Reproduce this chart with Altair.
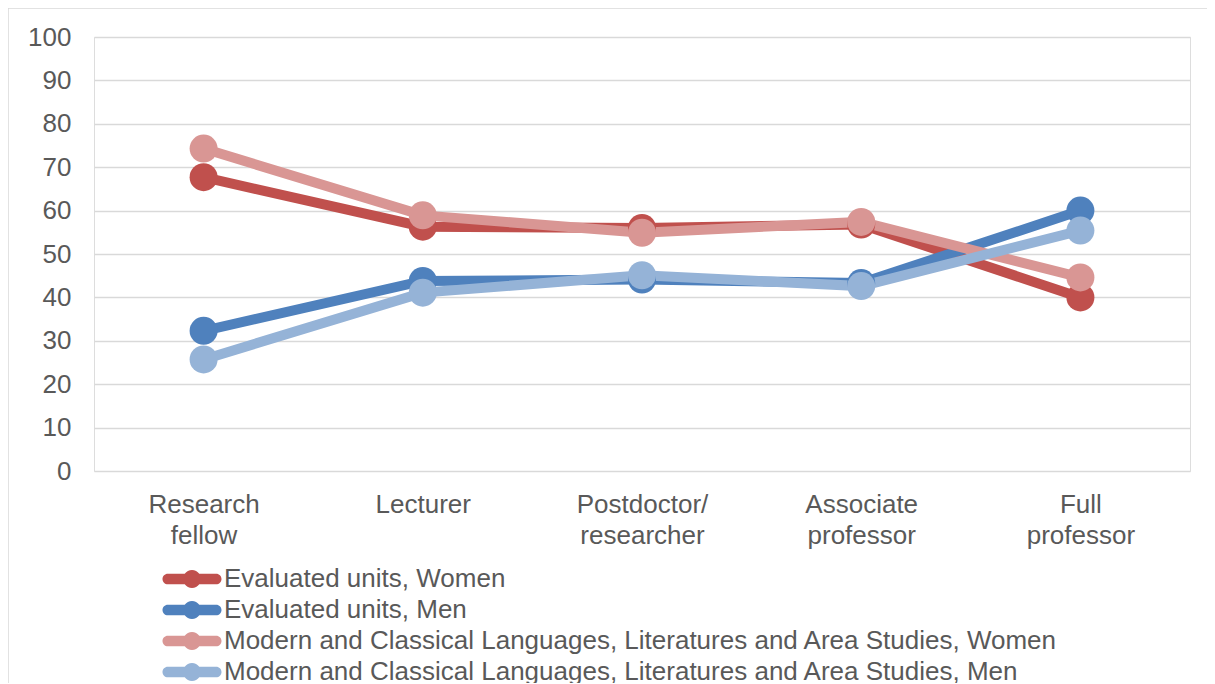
import altair as alt
import pandas as pd

categories = ["Research fellow", "Lecturer", "Postdoctor/ researcher", "Associate professor", "Full professor"]
series_names = [
    "Evaluated units, Women",
    "Evaluated units, Men",
    "Modern and Classical Languages, Literatures and Area Studies, Women",
    "Modern and Classical Languages, Literatures and Area Studies, Men",
]
eval_women = [67.7, 56.3, 56.0, 56.8, 40.0]
eval_men = [32.3, 43.8, 44.1, 43.3, 60.0]
lang_women = [74.3, 58.9, 54.9, 57.4, 44.6]
lang_men = [25.7, 41.1, 45.1, 42.6, 55.4]
colors = ["#C0504D", "#4F81BD", "#D99694", "#95B3D7"]

rows = []
for name, vals in zip(series_names, [eval_women, eval_men, lang_women, lang_men]):
    for c, v in zip(categories, vals):
        rows.append({"category": c, "series": name, "value": v})
df = pd.DataFrame(rows)

FONT = "Liberation Sans"
TXT = "#595959"

x_enc = alt.X(
    "category:N",
    sort=categories,
    scale=alt.Scale(type="point", padding=0.5),
    axis=alt.Axis(
        title=None, labelAngle=0, domain=False, ticks=False, grid=False,
        labelExpr="split(datum.label, ' ')", labelLineHeight=31,
        labelPadding=20, labelFontSize=26, labelFont=FONT, labelColor=TXT,
        labelBaseline="top",
    ),
)
y_enc = alt.Y(
    "value:Q",
    scale=alt.Scale(domain=[0, 100], nice=False),
    axis=alt.Axis(
        title=None, values=list(range(0, 101, 10)), domain=False, ticks=False,
        gridColor="#D9D9D9", gridWidth=1.5, labelPadding=23,
        labelFontSize=26, labelFont=FONT, labelColor=TXT,
    ),
)
color_scale = alt.Scale(domain=series_names, range=colors)

# legend glyph: thick rounded line with a dot in the middle (unit = sqrt(symbolSize)/2 px)
sym_path = ("M-2.42,-0.53 L-0.727,-0.53 A0.9,0.9 0 0,1 0.727,-0.53 L2.42,-0.53 "
            "A0.53,0.53 0 0,1 2.42,0.53 L0.727,0.53 A0.9,0.9 0 0,1 -0.727,0.53 "
            "L-2.42,0.53 A0.53,0.53 0 0,1 -2.42,-0.53 Z")

frame = alt.Chart(pd.DataFrame({"f": [0]})).mark_rect(
    fill=None, stroke="#D9D9D9", strokeWidth=1.5
).encode(
    x=alt.value(-86), x2=alt.value(1200), y=alt.value(-29), y2=alt.value(800)
)

lines = alt.Chart(df).mark_line(strokeWidth=10).encode(
    x=x_enc, y=y_enc,
    color=alt.Color("series:N", scale=color_scale, legend=None),
    detail="series:N",
)

points = alt.Chart(df).mark_circle(size=784, opacity=1).encode(
    x=x_enc, y=y_enc,
    color=alt.Color(
        "series:N", scale=color_scale,
        legend=alt.Legend(
            title=None, orient="none", legendX=85, legendY=529, direction="vertical",
            symbolType=sym_path, symbolSize=400, symbolStrokeWidth=0, symbolOpacity=1,
            labelFontSize=26, labelFont=FONT, labelColor=TXT, labelOffset=19,
            labelLimit=1200, rowPadding=5, padding=0,
        ),
    ),
)

chart = alt.layer(frame, lines, points).resolve_legend(color="independent").properties(
    width=1096, height=434,
    autosize=alt.AutoSizeParams(type="none"),
    padding={"left": 86, "top": 29, "right": 17, "bottom": 212},
).configure_view(stroke=None).configure(background="white")

chart.save("out.html", embed_options={"renderer": "svg", "actions": False})
